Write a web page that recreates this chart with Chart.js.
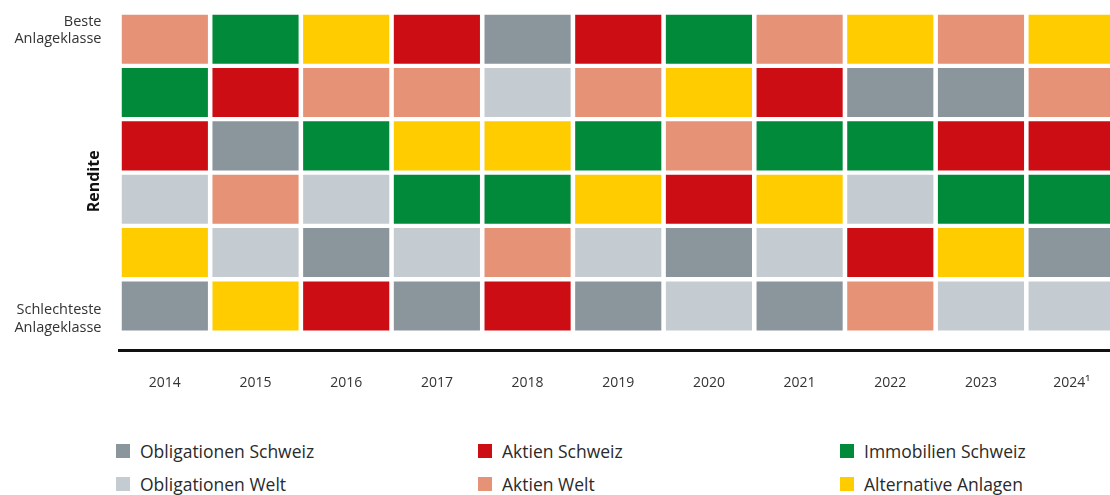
<!DOCTYPE html>
<html>
<head>
<meta charset="utf-8">
<script src="https://cdn.jsdelivr.net/npm/chart.js@4.4.0/dist/chart.umd.min.js"></script>
<style>
    html, body { margin: 0; padding: 0; background: #fff; overflow: hidden; }
    body { width: 1110px; height: 495px; position: relative; font-family: 'Open Sans', sans-serif; }
    #wrap { position: absolute; left: 0; top: 0; width: 1118px; height: 415px; }
    .legend { position: absolute; left: 0; top: 0; }
    .item { position: absolute; display: flex; align-items: center; font-size: 17.5px; color: #2a2a2a; white-space: nowrap; }
    .item span.box { display: inline-block; width: 14px; height: 14px; margin-right: 10px; }
</style>
</head>
<body>
<div id="wrap"><canvas id="grafico"></canvas></div>
<div class="legend" id="legenda"></div>
<script>
// Jahre (x-Achse)
const jahre = ['2014', '2015', '2016', '2017', '2018', '2019', '2020', '2021', '2022', '2023', '2024¹'];

// Rang pro Jahr (1 = beste, 6 = schlechteste Anlageklasse)
const obligationenSchweiz = [6, 3, 5, 6, 1, 6, 5, 6, 2, 2, 5];
const obligationenWelt    = [4, 5, 4, 5, 2, 5, 6, 5, 4, 6, 6];
const aktienSchweiz       = [3, 2, 6, 1, 6, 1, 4, 2, 5, 3, 3];
const aktienWelt          = [1, 4, 2, 2, 5, 2, 3, 1, 6, 1, 2];
const immobilienSchweiz   = [2, 1, 3, 4, 4, 3, 1, 3, 3, 4, 4];
const alternativeAnlagen  = [5, 6, 1, 3, 3, 4, 2, 4, 1, 5, 1];

const klassen = [
    { label: 'Obligationen Schweiz', rang: obligationenSchweiz, cor: '#8a969b' },
    { label: 'Obligationen Welt', rang: obligationenWelt, cor: '#c4cbd1' },
    { label: 'Aktien Schweiz', rang: aktienSchweiz, cor: '#cc0e14' },
    { label: 'Aktien Welt', rang: aktienWelt, cor: '#e69276' },
    { label: 'Immobilien Schweiz', rang: immobilienSchweiz, cor: '#008a3a' },
    { label: 'Alternative Anlagen', rang: alternativeAnlagen, cor: '#ffcc00' }
];

const ctx = document.getElementById('grafico').getContext('2d');

const grafico = new Chart(ctx, {
    type: 'bar',
    data: {
        labels: jahre,
        datasets: klassen.map(k => ({
            label: k.label,
            data: k.rang.map(r => [r - 0.5, r + 0.5]),
            backgroundColor: k.cor,
            borderColor: '#ffffff',
            borderWidth: { top: 2.5, bottom: 2.5, left: 2.6, right: 2.6 },
            borderSkipped: false,
            grouped: false,
            barPercentage: 1,
            categoryPercentage: 1
        }))
    },
    options: {
        responsive: true,
        maintainAspectRatio: false,
        animation: false,
        layout: { padding: { top: 12.5, right: 1, left: 0, bottom: 0 } },
        plugins: {
            legend: { display: false },
            tooltip: { enabled: false }
        },
        scales: {
            x: {
                grid: { display: false, drawTicks: false },
                border: { display: true, color: '#111', width: 3 },
                ticks: { color: '#333', padding: 24, font: { family: 'Open Sans', size: 14 } }
            },
            y: {
                reverse: true,
                min: 0.5,
                max: 6.83,
                grid: { display: false, drawTicks: false },
                border: { display: false },
                afterFit: scale => {
                    scale.width = 119.5;
                    scale.paddingTop = 0;
                    scale.paddingBottom = 0;
                },
                afterBuildTicks: scale => {
                    scale.ticks = [{ value: 0.83 }, { value: 6.24 }];
                },
                ticks: {
                    color: '#333',
                    padding: 18,
                    autoSkip: false,
                    font: { family: 'Open Sans', size: 14.5, lineHeight: 1.2 },
                    callback: value => value < 3 ? ['Beste', 'Anlageklasse'] : ['Schlechteste', 'Anlageklasse']
                },
                title: {
                    display: true,
                    text: 'Rendite',
                    color: '#111',
                    padding: { top: 85, bottom: 0 },
                    font: { family: 'Open Sans', size: 16, weight: 'bold' }
                }
            }
        }
    }
});

// Legende in drei Spalten
const legenda = document.getElementById('legenda');
const posicoes = [[116, 439], [116, 472], [478, 439], [478, 472], [840, 439], [840, 472]];
klassen.forEach((k, i) => {
    const el = document.createElement('div');
    el.className = 'item';
    el.style.left = posicoes[i][0] + 'px';
    el.style.top = posicoes[i][1] + 'px';
    el.innerHTML = `<span class="box" style="background:${k.cor}"></span>${k.label}`;
    legenda.appendChild(el);
});
</script>
</body>
</html>
